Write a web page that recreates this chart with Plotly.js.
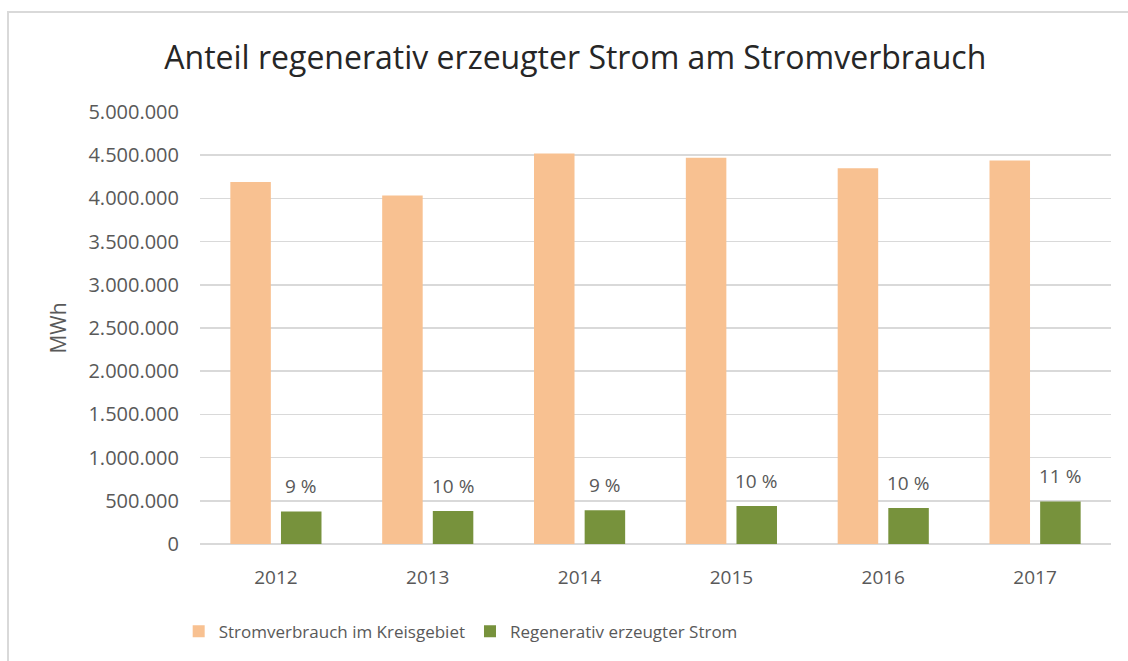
<!DOCTYPE html>
<html><head><meta charset="utf-8">
<script src="https://cdn.plot.ly/plotly-3.0.1.min.js"></script>
<style>
html,body{margin:0;padding:0;background:#fff;}
#wrap{position:relative;width:1128px;height:661px;overflow:hidden;}
#chart{position:absolute;left:0;top:0;width:1128px;height:661px;}
#frame{position:absolute;left:7px;top:11px;width:1130px;height:660px;border:2px solid #d9d9d9;pointer-events:none;}
</style></head>
<body>
<div id="wrap"><div id="chart"></div><div id="frame"></div></div>
<script>
const years = ['2012','2013','2014','2015','2016','2017'];
const verbrauch = [4190000, 4035000, 4520000, 4470000, 4350000, 4440000];
const regenerativ = [377000, 382000, 390000, 440000, 416000, 492000];
const anteilLabels = ['9 %','10 %','9 %','10 %','10 %','11 %'];
const yTicks = [0,500000,1000000,1500000,2000000,2500000,3000000,3500000,4000000,4500000,5000000];
const yTickText = ['0','500.000','1.000.000','1.500.000','2.000.000','2.500.000','3.000.000','3.500.000','4.000.000','4.500.000','5.000.000'];

const font = '"Open Sans", sans-serif';
const grey = '#595959';

const traces = [
  {type:'bar', name:'Stromverbrauch im Kreisgebiet', x:years, y:verbrauch,
   marker:{color:'#F8C191'}, hoverinfo:'skip'},
  {type:'bar', name:'Regenerativ erzeugter Strom', x:years, y:regenerativ,
   marker:{color:'#77923C'}, hoverinfo:'skip'}
];

const annotations = years.map((yr,i)=>({
  x: i, y: regenerativ[i], xref:'x', yref:'y', text: anteilLabels[i],
  showarrow:false, xshift:25, yshift:25, yanchor:'middle',
  font:{family:font, size:19, color:grey}
}));

const layout = {
  width:1128, height:661,
  margin:{l:200, r:17, t:112, b:116},
  paper_bgcolor:'rgba(0,0,0,0)', plot_bgcolor:'#fff',
  title:{text:'Anteil regenerativ erzeugter Strom am Stromverbrauch', x:0.51, xanchor:'center', y:0.912, yanchor:'middle',
         font:{family:font, size:32, color:'#262626'}},
  bargap:0.333, bargroupgap:0.2, barmode:'group',
  xaxis:{type:'category', range:[-0.5,5.5], autorange:false,
         tickfont:{family:font, size:19, color:grey}, showgrid:false,
         showline:false, ticks:'', ticklabelstandoff:20},
  yaxis:{range:[0,5000000], autorange:false, tickvals:yTicks, ticktext:yTickText,
         tickfont:{family:font, size:20, color:grey}, gridcolor:'#d9d9d9', gridwidth:1.5,
         zeroline:true, zerolinecolor:'#d9d9d9', zerolinewidth:1.5, ticks:'',
         ticklabelstandoff:20,
         title:{text:'MWh', font:{family:font, size:21, color:grey}, standoff:16}},
  showlegend:true,
  legend:{orientation:'h', x:-0.0234, xanchor:'left', y:-0.2, yanchor:'middle',
          font:{family:font, size:17, color:grey}, itemwidth:30, tracegroupgap:0,
          traceorder:'normal'},
  annotations: annotations
};

Plotly.newPlot('chart', traces, layout, {displayModeBar:false, staticPlot:true});
</script>
</body></html>
